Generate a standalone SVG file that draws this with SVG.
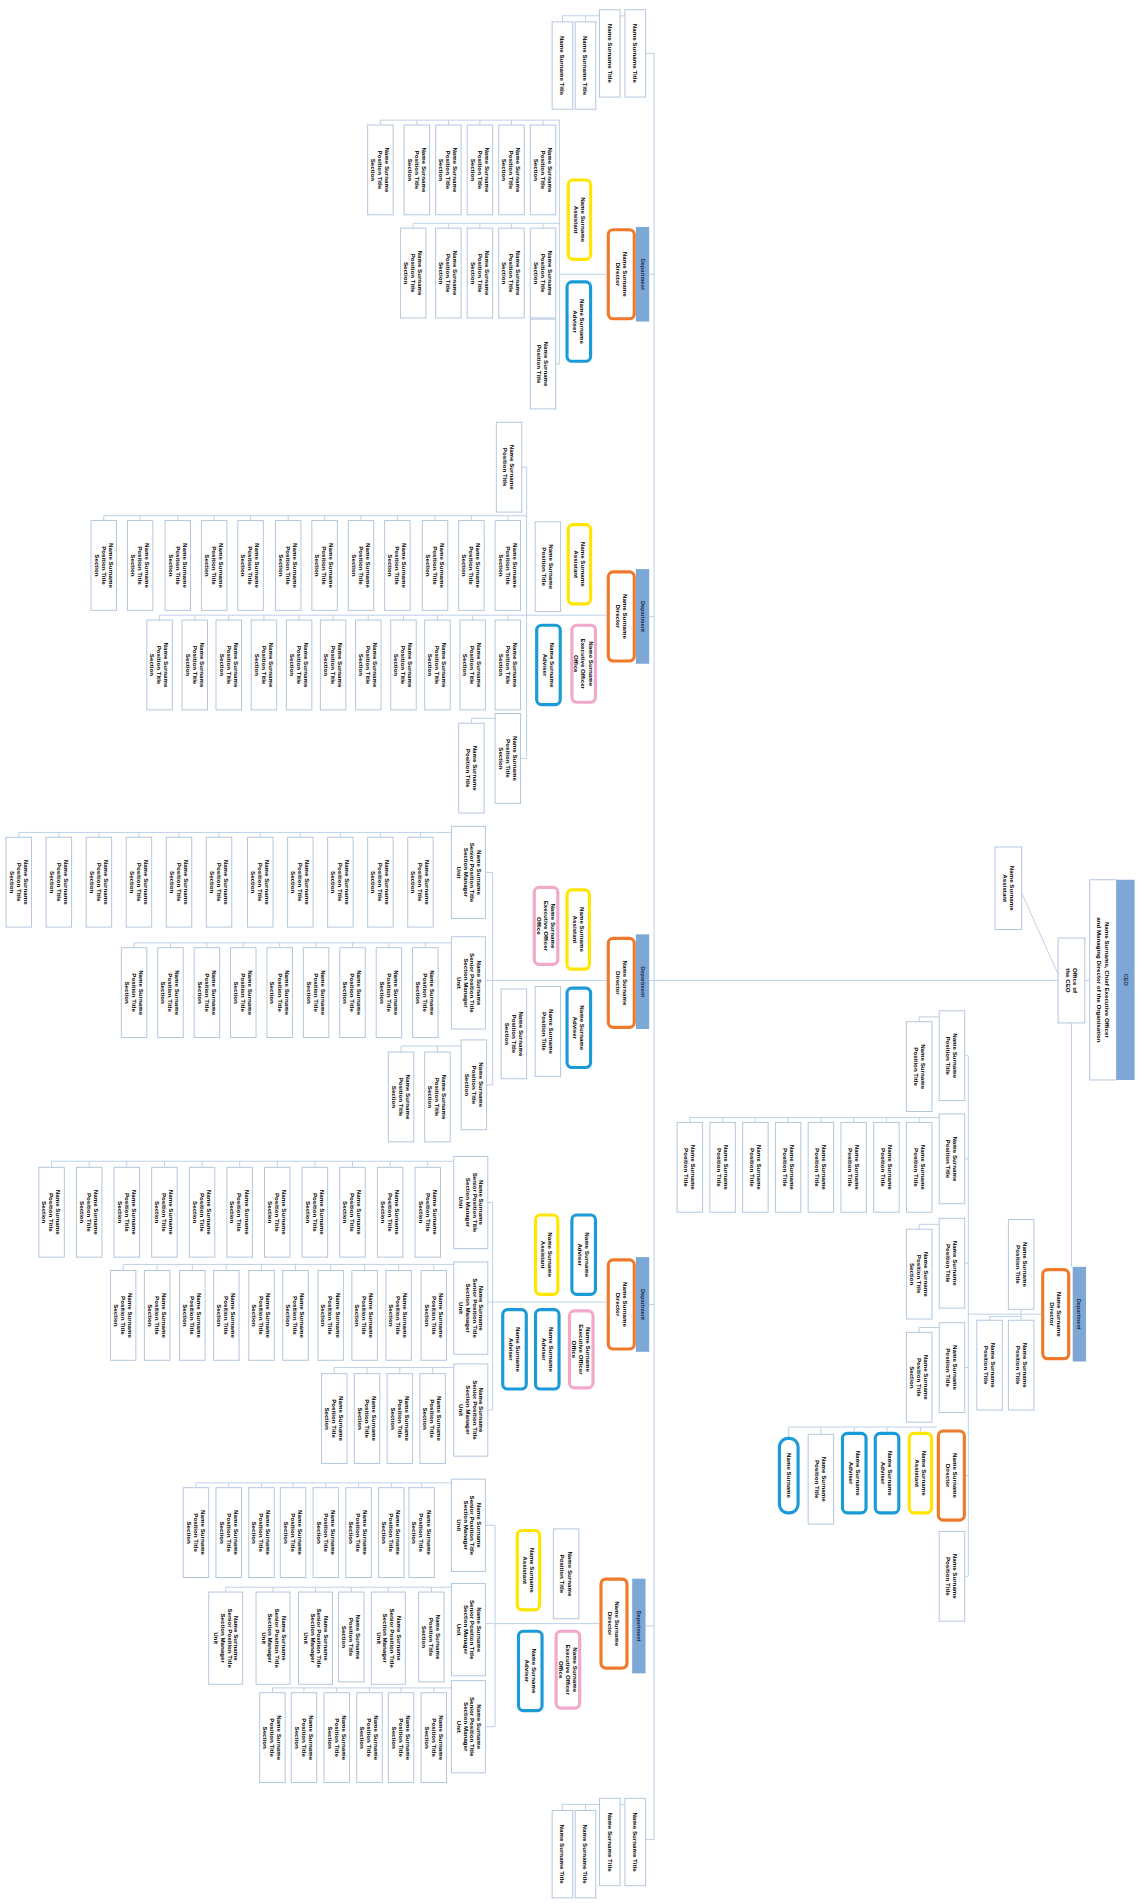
<svg xmlns="http://www.w3.org/2000/svg" xmlns:xlink="http://www.w3.org/1999/xlink" width="1137" height="1903" viewBox="0 0 1137 1903">
<style>
.w{fill:#fff;stroke:#B2C5DD;stroke-width:0.8}
.o{fill:#fff;stroke:#F07A2B;stroke-width:2.6}
.y{fill:#fff;stroke:#FFE500;stroke-width:2.6}
.b{fill:#fff;stroke:#1B9AD8;stroke-width:2.6}
.p{fill:#fff;stroke:#F2A9C9;stroke-width:2.6}
.h{fill:#7DA7D5}
.c{fill:none;stroke:#BCD0E8;stroke-width:0.8}
.t{font-family:"Liberation Sans",Arial,sans-serif;font-size:5.1px;font-weight:bold;fill:#000;text-anchor:middle}
.th{font-family:"Liberation Sans",Arial,sans-serif;font-size:4.6px;font-weight:bold;fill:#1D2B4F;text-anchor:middle}
</style>
<defs>
<g id="W"><rect class="w" width="21" height="74"/><text class="t" transform="translate(10.5,37) rotate(90)"><tspan x="0" y="-4">Name Surname</tspan><tspan x="0" y="1.8">Position Title</tspan><tspan x="0" y="7.6">Section</tspan></text></g>
<g id="V"><rect class="w" width="21" height="74"/><text class="t" transform="translate(10.5,37) rotate(90)"><tspan x="0" y="-1.2">Name Surname</tspan><tspan x="0" y="4.6">Position Title</tspan></text></g>
<g id="X"><rect class="w" width="28" height="76"/><text class="t" transform="translate(14,38) rotate(90)"><tspan x="0" y="-7">Name Surname</tspan><tspan x="0" y="-1.5">Senior Position Title</tspan><tspan x="0" y="4">Section Manager</tspan><tspan x="0" y="9.5">Unit</tspan></text></g>
<g id="N"><rect class="w" width="17" height="72"/><text class="t" transform="translate(8.5,36) rotate(90)"><tspan x="0" y="1.8">Name Surname Title</tspan></text></g>
<g id="O"><rect class="o" x="1.3" y="1.3" width="21.4" height="73.4" rx="4"/><text class="t" transform="translate(12,38) rotate(90)"><tspan x="0" y="-1.2">Name Surname</tspan><tspan x="0" y="4.6">Director</tspan></text></g>
<g id="Y"><rect class="y" x="1.3" y="1.3" width="18.4" height="65.4" rx="4"/><text class="t" transform="translate(10.5,34) rotate(90)"><tspan x="0" y="-1.2">Name Surname</tspan><tspan x="0" y="4.6">Assistant</tspan></text></g>
<g id="B"><rect class="b" x="1.3" y="1.3" width="19.4" height="65.4" rx="4"/><text class="t" transform="translate(11,34) rotate(90)"><tspan x="0" y="-1.2">Name Surname</tspan><tspan x="0" y="4.6">Adviser</tspan></text></g>
<g id="P"><rect class="p" x="1.3" y="1.3" width="19.4" height="63.4" rx="4"/><text class="t" transform="translate(11,33) rotate(90)"><tspan x="0" y="-4">Name Surname</tspan><tspan x="0" y="1.8">Executive Officer</tspan><tspan x="0" y="7.6">Office</tspan></text></g>
<g id="L"><rect class="b" x="1.3" y="1.3" width="15.4" height="61.4" rx="7"/><text class="t" transform="translate(9,32) rotate(90)"><tspan x="0" y="1.8">Name Surname</tspan></text></g>
<g id="H"><rect class="h" width="11" height="78"/><text class="th" transform="translate(5.5,39) rotate(90)"><tspan x="0" y="1.6">Department</tspan></text></g>
</defs>
<rect width="1137" height="1903" fill="#fff"/>
<g transform="scale(1.21345)">
<g id="connectors" class="c">
<path d="M539,44 V1516 M532,44 H539 M515,13 H463.5 M482.5,13 V18 M463.5,13 V18 M532,1516 H539 M515,1487 H463.5 M482.5,1487 V1492 M463.5,1487 V1492"/>
<path d="M461,99 V300 M313.5,99 H461 M313.5,99 V103 M343.5,99 V103 M369.5,99 V103 M395.5,99 V103 M421.5,99 V103 M447.5,99 V103 M340.5,184 H461 M340.5,184 V188 M369.5,184 V188 M395.5,184 V188 M421.5,184 V188 M447.5,184 V188 M458,300 H461 M461,226 H500 M535,226 H539"/>
<path d="M434,385 V625 M430,385 H434 M85.5,425 H434 M85.5,425 V429 M115.5,425 V429 M146.5,425 V429 M176.5,425 V429 M206.5,425 V429 M237.5,425 V429 M267.5,425 V429 M297.5,425 V429 M327.5,425 V429 M358.5,425 V429 M388.5,425 V429 M418.5,425 V429 M131.5,507 H500 M131.5,507 V511 M160.5,507 V511 M188.5,507 V511 M217.5,507 V511 M246.5,507 V511 M274.5,507 V511 M303.5,507 V511 M332.5,507 V511 M360.5,507 V511 M389.5,507 V511 M418.5,507 V511 M429,625 H434 M388.5,596 V592 H408 M535,508 H539"/>
<path d="M406,719 V894 M400,719 H406 M401,894 H406 M15.5,686 H372 M15.5,686 V690 M48.5,686 V690 M81.5,686 V690 M114.5,686 V690 M147.5,686 V690 M180.5,686 V690 M214.5,686 V690 M247.5,686 V690 M280.5,686 V690 M313.5,686 V690 M346.5,686 V690 M110.5,777 H372 M110.5,777 V781 M140.5,777 V781 M170.5,777 V781 M200.5,777 V781 M230.5,777 V781 M260.5,777 V781 M290.5,777 V781 M320.5,777 V781 M350.5,777 V781 M330.5,862 H380 M330.5,862 V867 M360.5,862 V867 M400,808 H500 M535,808 H872"/>
<path d="M406,991 V1162 M402,991 H406 M402,1162 H406 M402,1073 H500 M42.5,957 H374 M42.5,957 V962 M73.5,957 V962 M104.5,957 V962 M135.5,957 V962 M166.5,957 V962 M197.5,957 V962 M228.5,957 V962 M259.5,957 V962 M290.5,957 V962 M321.5,957 V962 M352.5,957 V962 M101.5,1042 H374 M101.5,1042 V1047 M129.5,1042 V1047 M158.5,1042 V1047 M186.5,1042 V1047 M215.5,1042 V1047 M243.5,1042 V1047 M272.5,1042 V1047 M300.5,1042 V1047 M328.5,1042 V1047 M357.5,1042 V1047 M275.5,1127 H374 M275.5,1127 V1132 M302.5,1127 V1132 M329.5,1127 V1132 M356.5,1127 V1132 M535,1075 H539"/>
<path d="M408,1257 V1423 M400,1257 H408 M400,1423 H408 M400,1338 H494 M161.5,1222 H372 M161.5,1222 V1226 M188.5,1222 V1226 M215.5,1222 V1226 M241.5,1222 V1226 M268.5,1222 V1226 M295.5,1222 V1226 M322.5,1222 V1226 M347.5,1222 V1226 M186,1308 H372 M186,1308 V1312 M225,1308 V1312 M260,1308 V1312 M289.5,1308 V1312 M320,1308 V1312 M355.5,1308 V1312 M224.5,1391 H372 M224.5,1391 V1395 M250.5,1391 V1395 M277.5,1391 V1395 M304.5,1391 V1395 M330.5,1391 V1395 M357.5,1391 V1395 M532,1340 H539"/>
<path d="M894,808 H898 M842,736 L873,805 M883,843 V1044"/>
<path d="M798,870 V1299 M798,1083 H858 M841.5,1079 V1088 M815.5,1088 V1085 H841.5 M795,870 H798 M757.5,842 V838 H774 M795,955 H798 M568.5,921 H774 M568.5,921 V925 M595.5,921 V925 M622.5,921 V925 M649.5,921 V925 M676.5,921 V925 M703.5,921 V925 M730.5,921 V925 M757.5,921 V925 M795,1041 H798 M757.5,1013 V1009 H774 M795,1127 H798 M757.5,1098 V1094 H774 M796,1216 H798 M650,1176 H772 M758.5,1176 V1180 M731,1176 V1180 M704,1176 V1180 M676.5,1176 V1182 M650,1176 V1184 M795,1299 H798"/>
</g>
<g id="top-cluster">
<g id="t1"><use href="#N" x="515" y="8"/></g>
<g id="t2"><use href="#N" x="494" y="8"/></g>
<g id="t3"><use href="#N" x="474" y="18"/></g>
<g id="t4"><use href="#N" x="455" y="18"/></g>
</g>
<g id="bottom-cluster">
<g id="u1"><use href="#N" x="515" y="1482"/></g>
<g id="u2"><use href="#N" x="494" y="1482"/></g>
<g id="u3"><use href="#N" x="474" y="1492"/></g>
<g id="u4"><use href="#N" x="455" y="1492"/></g>
</g>
<g id="dept-a">
<g id="a-head"><use href="#H" x="524" y="187"/><use href="#O" x="500" y="188"/></g>
<g id="a-y"><use href="#Y" x="467" y="147"/></g>
<g id="a-b"><use href="#B" x="466" y="231"/></g>
<g id="a1"><use href="#W" x="437" y="103"/></g>
<g id="a2"><use href="#W" x="411" y="103"/></g>
<g id="a3"><use href="#W" x="385" y="103"/></g>
<g id="a4"><use href="#W" x="359" y="103"/></g>
<g id="a5"><use href="#W" x="333" y="103"/></g>
<g id="a6"><use href="#W" x="303" y="103"/></g>
<g id="a7"><use href="#W" x="437" y="188"/></g>
<g id="a8"><use href="#W" x="411" y="188"/></g>
<g id="a9"><use href="#W" x="385" y="188"/></g>
<g id="a10"><use href="#W" x="359" y="188"/></g>
<g id="a11"><use href="#W" x="330" y="188"/></g>
<g id="a12"><use href="#V" x="437" y="263"/></g>
</g>
<g id="dept-b">
<g id="b-head"><use href="#H" x="524" y="469"/><use href="#O" x="500" y="470"/></g>
<g id="b-y"><use href="#Y" x="467" y="431"/></g>
<g id="b-w"><use href="#V" x="441" y="430"/></g>
<g id="b-p"><use href="#P" x="470" y="514"/></g>
<g id="b-b"><use href="#B" x="441" y="514"/></g>
<g id="b0"><use href="#V" x="409" y="348"/></g>
<g id="b1"><use href="#W" x="75" y="429"/></g>
<g id="b2"><use href="#W" x="105" y="429"/></g>
<g id="b3"><use href="#W" x="136" y="429"/></g>
<g id="b4"><use href="#W" x="166" y="429"/></g>
<g id="b5"><use href="#W" x="196" y="429"/></g>
<g id="b6"><use href="#W" x="227" y="429"/></g>
<g id="b7"><use href="#W" x="257" y="429"/></g>
<g id="b8"><use href="#W" x="287" y="429"/></g>
<g id="b9"><use href="#W" x="317" y="429"/></g>
<g id="b10"><use href="#W" x="348" y="429"/></g>
<g id="b11"><use href="#W" x="378" y="429"/></g>
<g id="b12"><use href="#W" x="408" y="429"/></g>
<g id="b13"><use href="#W" x="121" y="511"/></g>
<g id="b14"><use href="#W" x="150" y="511"/></g>
<g id="b15"><use href="#W" x="178" y="511"/></g>
<g id="b16"><use href="#W" x="207" y="511"/></g>
<g id="b17"><use href="#W" x="236" y="511"/></g>
<g id="b18"><use href="#W" x="264" y="511"/></g>
<g id="b19"><use href="#W" x="293" y="511"/></g>
<g id="b20"><use href="#W" x="322" y="511"/></g>
<g id="b21"><use href="#W" x="350" y="511"/></g>
<g id="b22"><use href="#W" x="379" y="511"/></g>
<g id="b23"><use href="#W" x="408" y="511"/></g>
<g id="b24"><use href="#W" x="408" y="588"/></g>
<g id="b25"><use href="#V" x="378" y="596"/></g>
</g>
<g id="dept-c">
<g id="c-head"><use href="#H" x="524" y="770"/><use href="#O" x="500" y="772"/></g>
<g id="c-p"><use href="#P" x="439" y="730"/></g>
<g id="c-y"><use href="#Y" x="466" y="732"/></g>
<g id="c-b"><use href="#B" x="466" y="813"/></g>
<g id="c-w1"><use href="#V" x="441" y="813"/></g>
<g id="c-w2"><use href="#W" x="413" y="815"/></g>
<g id="c1"><use href="#W" x="5" y="690"/></g>
<g id="c2"><use href="#W" x="38" y="690"/></g>
<g id="c3"><use href="#W" x="71" y="690"/></g>
<g id="c4"><use href="#W" x="104" y="690"/></g>
<g id="c5"><use href="#W" x="137" y="690"/></g>
<g id="c6"><use href="#W" x="170" y="690"/></g>
<g id="c7"><use href="#W" x="204" y="690"/></g>
<g id="c8"><use href="#W" x="237" y="690"/></g>
<g id="c9"><use href="#W" x="270" y="690"/></g>
<g id="c10"><use href="#W" x="303" y="690"/></g>
<g id="c11"><use href="#W" x="336" y="690"/></g>
<g id="c12"><use href="#X" x="372" y="681"/></g>
<g id="c13"><use href="#W" x="100" y="781"/></g>
<g id="c14"><use href="#W" x="130" y="781"/></g>
<g id="c15"><use href="#W" x="160" y="781"/></g>
<g id="c16"><use href="#W" x="190" y="781"/></g>
<g id="c17"><use href="#W" x="220" y="781"/></g>
<g id="c18"><use href="#W" x="250" y="781"/></g>
<g id="c19"><use href="#W" x="280" y="781"/></g>
<g id="c20"><use href="#W" x="310" y="781"/></g>
<g id="c21"><use href="#W" x="340" y="781"/></g>
<g id="c22"><use href="#X" x="372" y="772"/></g>
<g id="c23"><use href="#W" x="320" y="867"/></g>
<g id="c24"><use href="#W" x="350" y="867"/></g>
<g id="c25"><use href="#W" x="380" y="857"/></g>
</g>
<g id="dept-d">
<g id="d-head"><use href="#H" x="524" y="1036"/><use href="#O" x="500" y="1037"/></g>
<g id="d-y"><use href="#Y" x="440" y="1000"/></g>
<g id="d-b1"><use href="#B" x="470" y="1000"/></g>
<g id="d-b2"><use href="#B" x="413" y="1078"/></g>
<g id="d-b3"><use href="#B" x="440" y="1078"/></g>
<g id="d-p"><use href="#P" x="468" y="1079"/></g>
<g id="d1"><use href="#W" x="32" y="962"/></g>
<g id="d2"><use href="#W" x="63" y="962"/></g>
<g id="d3"><use href="#W" x="94" y="962"/></g>
<g id="d4"><use href="#W" x="125" y="962"/></g>
<g id="d5"><use href="#W" x="156" y="962"/></g>
<g id="d6"><use href="#W" x="187" y="962"/></g>
<g id="d7"><use href="#W" x="218" y="962"/></g>
<g id="d8"><use href="#W" x="249" y="962"/></g>
<g id="d9"><use href="#W" x="280" y="962"/></g>
<g id="d10"><use href="#W" x="311" y="962"/></g>
<g id="d11"><use href="#W" x="342" y="962"/></g>
<g id="d12"><use href="#X" x="374" y="953"/></g>
<g id="d13"><use href="#W" x="91" y="1047"/></g>
<g id="d14"><use href="#W" x="119" y="1047"/></g>
<g id="d15"><use href="#W" x="148" y="1047"/></g>
<g id="d16"><use href="#W" x="176" y="1047"/></g>
<g id="d17"><use href="#W" x="205" y="1047"/></g>
<g id="d18"><use href="#W" x="233" y="1047"/></g>
<g id="d19"><use href="#W" x="262" y="1047"/></g>
<g id="d20"><use href="#W" x="290" y="1047"/></g>
<g id="d21"><use href="#W" x="318" y="1047"/></g>
<g id="d22"><use href="#W" x="347" y="1047"/></g>
<g id="d23"><use href="#X" x="374" y="1040"/></g>
<g id="d24"><use href="#W" x="265" y="1132"/></g>
<g id="d25"><use href="#W" x="292" y="1132"/></g>
<g id="d26"><use href="#W" x="319" y="1132"/></g>
<g id="d27"><use href="#W" x="346" y="1132"/></g>
<g id="d28"><use href="#X" x="374" y="1124"/></g>
</g>
<g id="dept-e">
<g id="e-head"><use href="#H" x="521" y="1301"/><use href="#O" x="494" y="1300"/></g>
<g id="e-y"><use href="#Y" x="425" y="1260"/></g>
<g id="e-w"><use href="#V" x="456" y="1260"/></g>
<g id="e-b"><use href="#B" x="426" y="1343"/></g>
<g id="e-p"><use href="#P" x="457" y="1343"/></g>
<g id="e1"><use href="#W" x="151" y="1226"/></g>
<g id="e2"><use href="#W" x="178" y="1226"/></g>
<g id="e3"><use href="#W" x="205" y="1226"/></g>
<g id="e4"><use href="#W" x="231" y="1226"/></g>
<g id="e5"><use href="#W" x="258" y="1226"/></g>
<g id="e6"><use href="#W" x="285" y="1226"/></g>
<g id="e7"><use href="#W" x="312" y="1226"/></g>
<g id="e8"><use href="#W" x="337" y="1226"/></g>
<g id="e9"><use href="#X" x="372" y="1219"/></g>
<g id="e10"><use href="#X" x="172" y="1312"/></g>
<g id="e11"><use href="#X" x="211" y="1312"/></g>
<g id="e12"><use href="#X" x="246" y="1312"/></g>
<g id="e13"><use href="#W" x="279" y="1312"/></g>
<g id="e14"><use href="#X" x="306" y="1312"/></g>
<g id="e15"><use href="#W" x="345" y="1312"/></g>
<g id="e16"><use href="#X" x="372" y="1305"/></g>
<g id="e17"><use href="#W" x="214" y="1395"/></g>
<g id="e18"><use href="#W" x="240" y="1395"/></g>
<g id="e19"><use href="#W" x="267" y="1395"/></g>
<g id="e20"><use href="#W" x="294" y="1395"/></g>
<g id="e21"><use href="#W" x="320" y="1395"/></g>
<g id="e22"><use href="#W" x="347" y="1395"/></g>
<g id="e23"><use href="#X" x="372" y="1385"/></g>
</g>
<g id="root-area">
<g id="root"><rect class="w" x="898" y="725" width="22" height="165"/><rect class="h" x="920" y="725" width="15" height="165"/><text class="t" transform="translate(909,807.5) rotate(90)"><tspan x="0" y="-1.5">Name Surname, Chief Executive Officer</tspan><tspan x="0" y="4.8">and Managing Director of the Organisation</tspan></text><text class="th" transform="translate(927.5,807.5) rotate(90)"><tspan x="0" y="1.6">CEO</tspan></text></g>
<g id="office"><rect class="w" x="872" y="773" width="22" height="70"/><text class="t" transform="translate(883,808) rotate(90)"><tspan x="0" y="-1.2">Office of</tspan><tspan x="0" y="4.6">the CEO</tspan></text></g>
<g id="assistant"><rect class="w" x="820" y="698" width="22" height="68"/><text class="t" transform="translate(831,732) rotate(90)"><tspan x="0" y="-1.2">Name Surname</tspan><tspan x="0" y="4.6">Assistant</tspan></text></g>
</g>
<g id="branch">
<g id="f-head"><use href="#H" x="884" y="1044"/><use href="#O" x="858" y="1045"/></g>
<g id="f-a1"><use href="#V" x="831" y="1005"/></g>
<g id="f-a2"><use href="#V" x="831" y="1088"/></g>
<g id="f-a3"><use href="#V" x="805" y="1088"/></g>
<g id="f1"><use href="#V" x="774" y="833"/></g>
<g id="f2"><use href="#V" x="747" y="842"/></g>
<g id="f3"><use href="#V" x="774" y="918"/></g>
<g id="f4"><use href="#V" x="558" y="925"/></g>
<g id="f5"><use href="#V" x="585" y="925"/></g>
<g id="f6"><use href="#V" x="612" y="925"/></g>
<g id="f7"><use href="#V" x="639" y="925"/></g>
<g id="f8"><use href="#V" x="666" y="925"/></g>
<g id="f9"><use href="#V" x="693" y="925"/></g>
<g id="f10"><use href="#V" x="720" y="925"/></g>
<g id="f11"><use href="#V" x="747" y="925"/></g>
<g id="f12"><use href="#V" x="774" y="1004"/></g>
<g id="f13"><use href="#W" x="747" y="1013"/></g>
<g id="f14"><use href="#V" x="774" y="1090"/></g>
<g id="f15"><use href="#W" x="747" y="1098"/></g>
<g id="f16"><use href="#O" x="772" y="1178"/></g>
<g id="f17"><use href="#Y" x="748" y="1180"/></g>
<g id="f18"><use href="#B" x="720" y="1180"/></g>
<g id="f19"><use href="#B" x="693" y="1180"/></g>
<g id="f20"><use href="#V" x="666" y="1182"/></g>
<g id="f21"><use href="#L" x="641" y="1184"/></g>
<g id="f22"><use href="#V" x="774" y="1262"/></g>
</g>
</g>
</svg>
